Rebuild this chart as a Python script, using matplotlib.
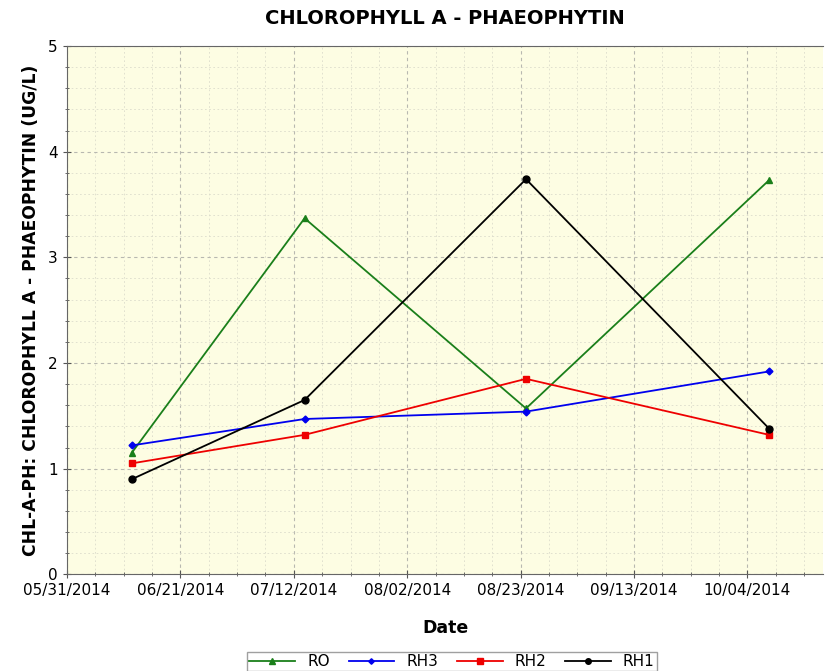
import numpy as np
import pandas as pd
import matplotlib
matplotlib.use("Agg")
import matplotlib.pyplot as plt
import matplotlib.dates as mdates
from matplotlib.ticker import MultipleLocator, FixedLocator

# ---- data ----
dates = pd.to_datetime(["2014-06-12", "2014-07-14", "2014-08-24", "2014-10-08"])
ro = [1.15, 3.37, 1.57, 3.73]
rh3 = [1.22, 1.47, 1.54, 1.92]
rh2 = [1.05, 1.32, 1.85, 1.32]
rh1 = [0.90, 1.65, 3.74, 1.38]

series = [
    ("RO", ro, "#1a7f1a", "^", 5),
    ("RH3", rh3, "#0000ee", "D", 3.5),
    ("RH2", rh2, "#ee0000", "s", 5),
    ("RH1", rh1, "#000000", "o", 5),
]

fig = plt.figure(figsize=(8.25, 6.71), dpi=100)
ax = fig.add_axes([0.0812, 0.1441, 0.9164, 0.7873])
ax.set_facecolor("#fdfde3")

for name, vals, col, mk, ms in series:
    ax.plot(dates, vals, color=col, marker=mk, markersize=ms, linewidth=1.3, label=name)

# x ticks every 3 weeks starting 05/31/2014
start = mdates.date2num(pd.Timestamp("2014-05-31"))
ax.set_xlim(start, start + 140)
ax.set_ylim(0, 5)
ax.xaxis.set_major_locator(FixedLocator(start + np.arange(0, 141, 21)))
ax.xaxis.set_minor_locator(FixedLocator(start + np.arange(0, 141, 5.25)))
ax.xaxis.set_major_formatter(mdates.DateFormatter("%m/%d/%Y"))
ax.yaxis.set_major_locator(MultipleLocator(1))
ax.yaxis.set_minor_locator(MultipleLocator(0.2))

ax.grid(which="major", color="#b8b8b0", linestyle=(0, (3, 3)), linewidth=0.8)
ax.grid(which="minor", color="#dcdccc", linestyle=(0, (2, 3)), linewidth=0.6)
ax.set_axisbelow(True)

ax.tick_params(axis="both", which="major", direction="inout", length=6, color="#555555", labelsize=11)
ax.tick_params(axis="both", which="minor", direction="inout", length=3, color="#555555")
for s in ["left", "bottom", "top"]:
    ax.spines[s].set_color("#666666")
ax.spines["right"].set_visible(False)

ax.set_title("CHLOROPHYLL A - PHAEOPHYTIN", fontsize=14, fontweight="bold", pad=16)
ax.set_xlabel("Date", fontsize=12.5, fontweight="bold", labelpad=15)
ax.set_ylabel("CHL-A-PH: CHLOROPHYLL A - PHAEOPHYTIN (UG/L)", fontsize=12.3, fontweight="bold", labelpad=6)

leg = fig.legend(loc="lower center", bbox_to_anchor=(0.548, -0.012), ncol=4, fontsize=11,
                 frameon=True, fancybox=False, edgecolor="#888888", handlelength=3.0,
                 columnspacing=1.2, borderpad=0.15, handletextpad=0.8, markerscale=0.8)
leg.get_frame().set_linewidth(1.0)

fig.savefig("out.png", dpi=100)
